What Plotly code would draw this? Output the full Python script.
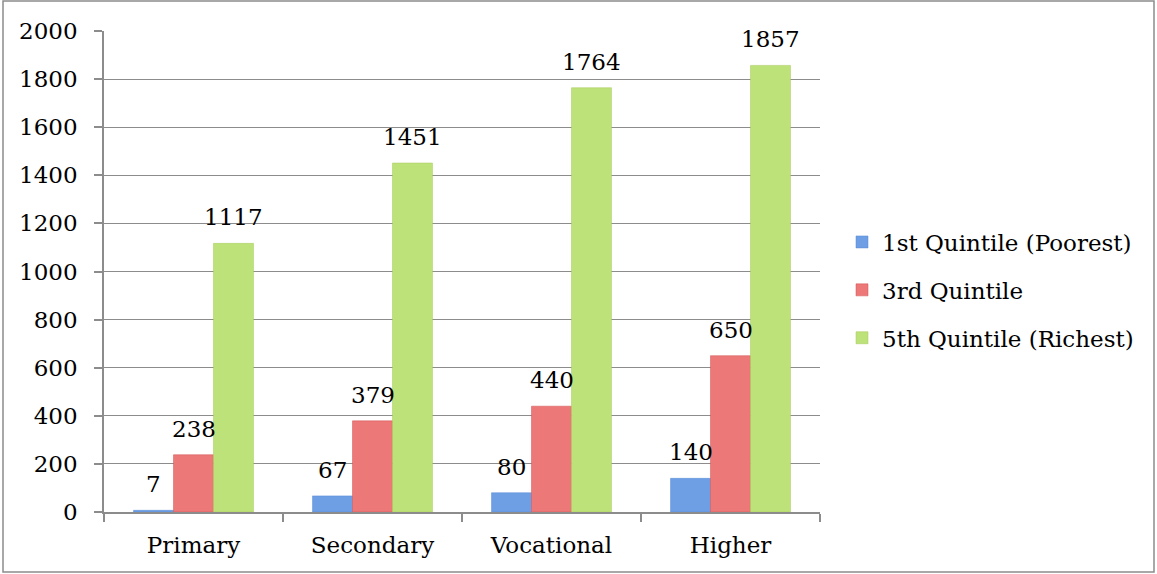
import plotly.graph_objects as go

categories = ["Primary", "Secondary", "Vocational", "Higher"]
q1_poorest = [7, 67, 80, 140]
q3_middle = [238, 379, 440, 650]
q5_richest = [1117, 1451, 1764, 1857]

series_names = ["1st Quintile (Poorest)", "3rd Quintile", "5th Quintile (Richest)"]
series_colors = ["#6E9FE5", "#EC7878", "#BEE27A"]
series_lines = ["#5288D4", "#D45050", "#A4CA56"]

FONT = "DejaVu Serif"
FS = 23
W, H = 1157, 574
ML, MR, MT, MB = 104, 337, 31, 62
BARGAP = 0.33

pw = W - ML - MR
ph = H - MT - MB
cat_px = pw / len(categories)
bar_px = cat_px * (1 - BARGAP) / 3

fig = go.Figure()
annotations = []
all_series = [q1_poorest, q3_middle, q5_richest]
for i, (name, vals, col, lc) in enumerate(zip(series_names, all_series,
                                              series_colors, series_lines)):
    fig.add_trace(go.Bar(
        x=categories, y=vals, name=name, legendgroup=name,
        marker=dict(color=col, line=dict(color=lc, width=0.5)),
    ))
    # value labels above each bar
    for cat, v in zip(categories, vals):
        annotations.append(dict(
            x=cat, y=v, xref="x", yref="y", text=str(v), showarrow=False,
            xanchor="center", yanchor="bottom",
            xshift=(i - 1) * bar_px, yshift=11,
            font=dict(family=FONT, size=FS, color="#000000"),
        ))

# outer chart frame, expressed in paper coordinates
fx0, fx1 = (3 - ML) / pw, (1154 - ML) / pw
fy1, fy0 = (H - MB - 1) / ph, (H - MB - 572) / ph

fig.update_layout(
    width=W, height=H,
    margin=dict(l=ML, r=MR, t=MT, b=MB),
    paper_bgcolor="white", plot_bgcolor="white",
    barmode="group", bargap=BARGAP, bargroupgap=0,
    font=dict(family=FONT, size=FS, color="#000000"),
    showlegend=True,
    legend=dict(x=(842 - ML) / pw, y=(H - MB - 290) / ph,
                xanchor="left", yanchor="middle",
                font=dict(family=FONT, size=FS), tracegroupgap=15,
                itemwidth=30, bgcolor="rgba(0,0,0,0)"),
    xaxis=dict(showline=True, linecolor="#8c8c8c", linewidth=1.5,
               ticks="outside", tickson="boundaries", ticklen=8,
               tickcolor="#8c8c8c", tickwidth=1.5, showgrid=False,
               ticklabelstandoff=12,
               tickfont=dict(family=FONT, size=FS)),
    yaxis=dict(range=[0, 2000], dtick=200, showline=True, linecolor="#8c8c8c",
               linewidth=1.5, ticks="outside", ticklen=8, tickcolor="#8c8c8c",
               tickwidth=1.5, showgrid=True, gridcolor="#8c8c8c", gridwidth=1.3,
               zeroline=False, ticklabelstandoff=12,
               tickfont=dict(family=FONT, size=FS)),
    annotations=annotations,
    shapes=[dict(type="rect", xref="paper", yref="paper",
                 x0=fx0, x1=fx1, y0=fy0, y1=fy1,
                 line=dict(color="#8c8c8c", width=1.5), layer="below")],
)

fig.write_html("out.html")
